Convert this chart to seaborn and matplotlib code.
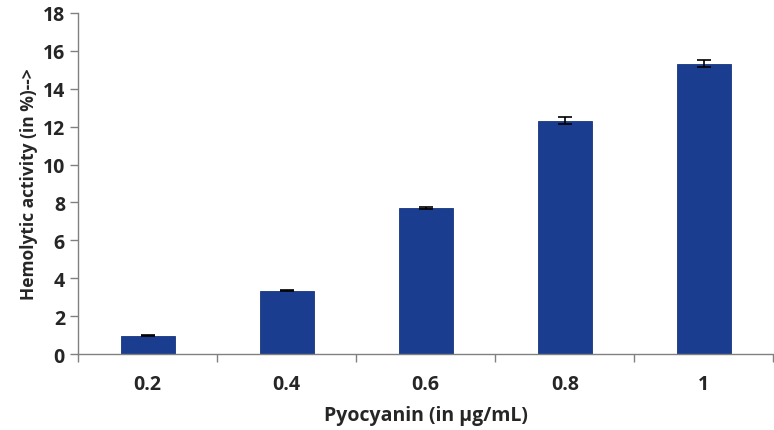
import pandas as pd
import numpy as np
import seaborn as sns
import matplotlib.pyplot as plt
from matplotlib.ticker import FixedLocator

# Data
concentrations = ['0.2', '0.4', '0.6', '0.8', '1']
hemolysis = [0.97, 3.35, 7.70, 12.32, 15.32]
errors = [0.03, 0.03, 0.07, 0.20, 0.20]

df = pd.DataFrame({'conc': concentrations, 'activity': hemolysis})

sns.set_style('white')
plt.rcParams['font.family'] = ['Open Sans', 'DejaVu Sans']

fig = plt.figure(figsize=(7.74, 4.31), dpi=100)
ax = fig.add_axes([0.101, 0.176, 0.898, 0.792])

sns.barplot(data=df, x='conc', y='activity', color='#1a3d8f', width=0.39,
            errorbar=None, saturation=1, edgecolor='#16357c', linewidth=0.6, ax=ax)
ax.errorbar(np.arange(len(hemolysis)), hemolysis, yerr=errors, fmt='none',
            ecolor='black', elinewidth=1.2, capsize=5, capthick=1.2)

ax.set_xlim(-0.5, len(concentrations) - 0.5)
ax.set_ylim(0, 18)
ax.set_yticks(range(0, 19, 2))

# tick marks sit between categories
ax.xaxis.set_minor_locator(FixedLocator(np.arange(-0.5, len(concentrations), 1.0)))
ax.tick_params(axis='x', which='major', length=0, pad=14, labelsize=14)
ax.tick_params(axis='x', which='minor', length=6, width=1, color='#808080', direction='out', bottom=True)
ax.tick_params(axis='y', which='major', length=6, width=1, color='#808080', direction='out', left=True, labelsize=14)
for lbl in ax.get_xticklabels() + ax.get_yticklabels():
    lbl.set_fontweight('bold')

for side in ['top', 'right']:
    ax.spines[side].set_visible(False)
for side in ['left', 'bottom']:
    ax.spines[side].set_color('#808080')
    ax.spines[side].set_linewidth(1)

ax.set_xlabel('Pyocyanin (in µg/mL)', fontsize=14, fontweight='bold', labelpad=8)
ax.set_ylabel('Hemolytic activity (in %)-->', fontsize=12.5, fontweight='bold', labelpad=3)

fig.savefig('out.png', dpi=100)
